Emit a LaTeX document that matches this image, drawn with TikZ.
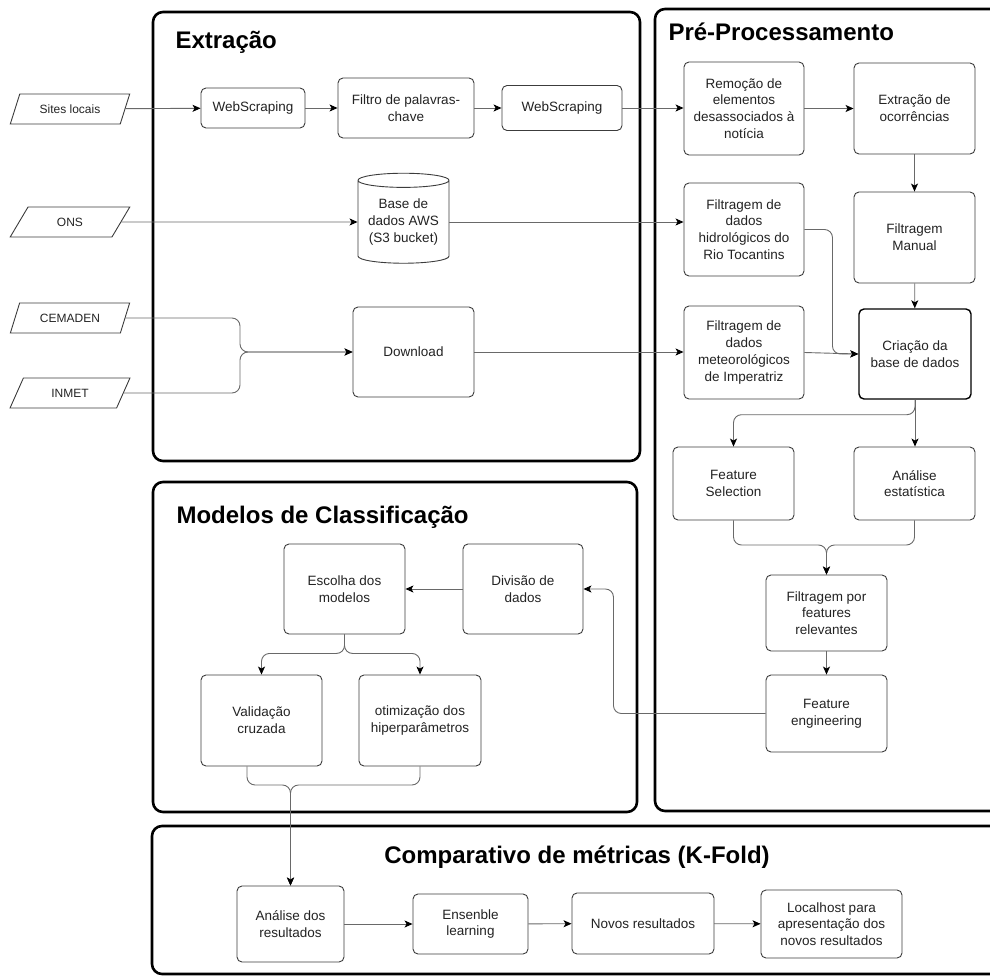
\documentclass[tikz,border=0pt]{standalone}
\usepackage{fontspec}
\setmainfont{Liberation Sans}
\definecolor{boxline}{RGB}{60,60,60}
\definecolor{wireline}{RGB}{105,105,105}
\definecolor{txtgray}{RGB}{35,35,35}
\usetikzlibrary{arrows.meta,positioning,shapes.geometric,calc}

\begin{document}
\begin{tikzpicture}[x=1pt,y=-1pt,
  procbox/.style={
    rectangle, rounded corners=5pt,
    draw=boxline, line width=0.9pt,
    fill=white, inner sep=0pt,
    align=center, text=txtgray,
    font=\fontsize{13.5}{16.7}\selectfont
  },
  srcdata/.style={
    trapezium, trapezium left angle=57, trapezium right angle=123,
    trapezium stretches=true,
    draw=boxline, line width=0.9pt,
    minimum width=120pt, minimum height=30pt, inner sep=0pt,
    text=txtgray, font=\fontsize{12}{14}\selectfont
  },
  stagebox/.style={draw=black, line width=2.6pt, rounded corners=10pt},
  stagetitle/.style={anchor=base west, font=\fontsize{24}{28}\selectfont\bfseries},
  conn/.style={-{Stealth[length=8pt,width=7pt,inset=2pt,color=black]}, draw=wireline,
    line width=0.9pt, rounded corners=8pt}
]
\useasboundingbox (0,0) rectangle (990,976);

% stages
\draw[stagebox] (153,12) rectangle (640,461);
\draw[stagebox] (655,9) rectangle (1010,811);
\draw[stagebox] (153,482) rectangle (637,812);
\draw[stagebox] (152,826) rectangle (1010,974);

\node[stagetitle] (tExtr) at (172,49) {Extração};
\node[stagetitle] (tPre) at (665,41) {Pré-Processamento};
\node[stagetitle] (tMod) at (173,523) {Modelos de Classificação};
\node[stagetitle, anchor=base] (tComp) at (577,863) {Comparativo de métricas (K-Fold)};

% sources
\node[srcdata] (sites)   at (70,109) {Sites locais};
\node[srcdata] (ons)     at (70,222) {ONS};
\node[srcdata] (cemaden) at (70,318) {CEMADEN};
\node[srcdata] (inmet)   at (70,393) {INMET};

% extracao
\node[procbox, minimum width=104pt, minimum height=40pt] (ws1) at (253,108) {WebScraping};
\node[procbox, minimum width=136pt, minimum height=60pt] (filtro) at (406,108) {Filtro de palavras-\\chave};
\node[procbox, minimum width=120pt, minimum height=45pt] (ws2) at (562,108) {WebScraping};
\node[cylinder, shape border rotate=90, aspect=0.2, draw=boxline, line width=0.9pt,
  fill=white, minimum width=91pt, minimum height=90pt, inner sep=0pt, align=center,
  text=txtgray, font=\fontsize{13.5}{16.7}\selectfont] (aws) at (403.5,222) {Base de\\dados AWS\\(S3 bucket)};
\node[procbox, minimum width=121pt, minimum height=90pt] (download) at (413.5,352) {Download};

% pre-processamento
\node[procbox, minimum width=120pt, minimum height=93pt] (remocao) at (744,108.5) {Remoção de\\elementos\\desassociados à\\notícia};
\node[procbox, minimum width=121pt, minimum height=91pt] (extocc) at (914.5,108.5) {Extração de\\ocorrências};
\node[procbox, minimum width=120pt, minimum height=93pt] (hidro) at (744,229.5) {Filtragem de\\dados\\hidrológicos do\\Rio Tocantins};
\node[procbox, minimum width=121pt, minimum height=91pt] (manual) at (914.5,237.5) {Filtragem\\Manual};
\node[procbox, minimum width=120pt, minimum height=93pt] (meteo) at (744,352.5) {Filtragem de\\dados\\meteorológicos\\de Imperatriz};
\node[procbox, draw=black, line width=1.4pt, minimum width=112pt, minimum height=90pt] (criacao) at (915,354) {Criação da\\base de dados};
\node[procbox, minimum width=121pt, minimum height=73pt] (fsel) at (733.5,483.5) {Feature\\Selection};
\node[procbox, minimum width=121pt, minimum height=73pt] (analise) at (914.5,483.5) {Análise\\estatística};
\node[procbox, minimum width=121pt, minimum height=76pt] (filtfeat) at (826.5,613) {Filtragem por\\features\\relevantes};
\node[procbox, minimum width=121pt, minimum height=77pt] (feng) at (826.5,713.5) {Feature\\engineering};

% modelos
\node[procbox, minimum width=121pt, minimum height=90pt] (escolha) at (344.5,589) {Escolha dos\\modelos};
\node[procbox, minimum width=120pt, minimum height=90pt] (divisao) at (523,589) {Divisão de\\dados};
\node[procbox, minimum width=121pt, minimum height=91pt] (valid) at (261.5,720.5) {Validação\\cruzada};
\node[procbox, minimum width=122pt, minimum height=91pt] (otim) at (420,720.5) {otimização dos\\hiperparâmetros};

% comparativo
\node[procbox, minimum width=107pt, minimum height=76pt] (resul) at (290.5,924) {Análise dos\\resultados};
\node[procbox, minimum width=115pt, minimum height=60pt] (ensemble) at (470.5,924) {Ensenble\\learning};
\node[procbox, minimum width=142pt, minimum height=61pt] (novos) at (643,923.5) {Novos resultados};
\node[procbox, minimum width=141pt, minimum height=68pt] (local) at (831.5,924) {Localhost para\\apresentação dos\\novos resultados};

\coordinate (mergeA) at (240,352);
\coordinate (mergeB) at (826.5,545);
\coordinate (mergeC) at (290.5,785);

\draw[conn] (sites) -- (ws1);
\draw[conn] (ws1) -- (filtro);
\draw[conn] (filtro) -- (ws2);
\draw[conn] (ws2) -- (ws2 -| remocao.west);
\draw[conn] (remocao) -- (extocc);
\draw[conn] (extocc) -- (manual);
\draw[conn] (manual) -- (criacao);
\draw[conn] (ons) -- (aws);
\draw[conn] (aws.east) -- (aws.east -| hidro.west);
\draw[conn] (cemaden.east) -| (mergeA) -- (download.west);
\draw[conn] (inmet.east) -| (mergeA) -- (download.west);
\draw[conn] (download) -- (download -| meteo.west);
\draw[conn] (hidro.east) -- ++(28,0) |- (criacao.west);
\draw[conn] (meteo.east) -- (criacao.west);
\draw[conn] (criacao.south) -- ++(0,15) -| (fsel.north);
\draw[conn] (criacao.south) -- (criacao.south |- analise.north);
\draw[conn] (fsel.south) |- (mergeB) -- (filtfeat.north);
\draw[conn] (analise.south) |- (mergeB) -- (filtfeat.north);
\draw[conn] (filtfeat) -- (feng);
\draw[conn] (feng.west) -| ($(divisao.east)+(30,0)$) -- (divisao.east);
\draw[conn] (divisao) -- (escolha);
\draw[conn] (escolha.south) -- ++(0,19) -| (valid.north);
\draw[conn] (escolha.south) -- ++(0,19) -| (otim.north);
\draw[conn] ([xshift=-14.5pt]valid.south) |- (mergeC) -- (resul.north);
\draw[conn] (otim.south) |- (mergeC) -- (resul.north);
\draw[conn] (resul) -- (ensemble);
\draw[conn] (ensemble) -- (novos);
\draw[conn] (novos) -- (local);
\end{tikzpicture}
\end{document}
